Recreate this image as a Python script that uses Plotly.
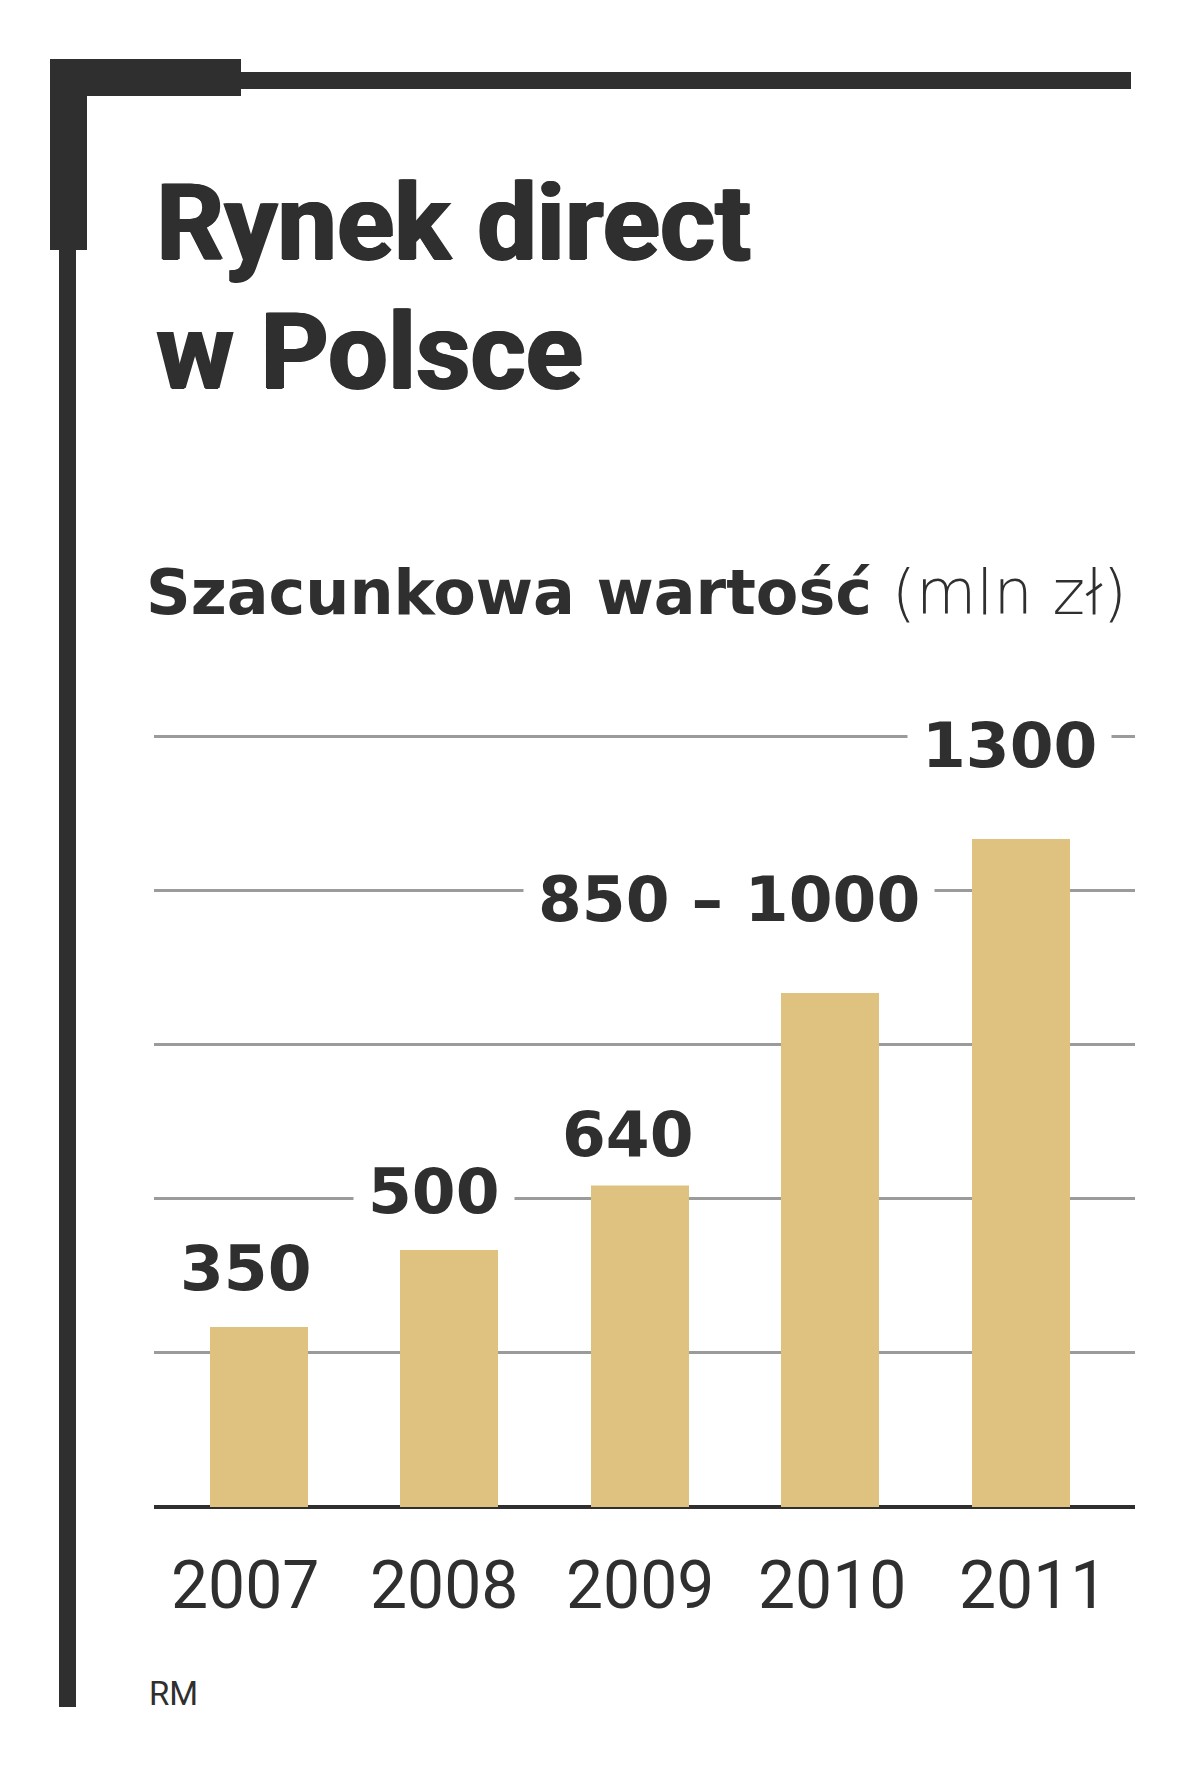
import plotly.graph_objects as go

# ---- data ----
years = ["2007", "2008", "2009", "2010", "2011"]
values = [350, 500, 640, 1000, 1300]
value_labels = ["350", "500", "640", "850 – 1000", "1300"]
grid_ticks = [0, 300, 600, 900, 1200, 1500]

title_line1 = "Rynek direct"
title_line2 = "w Polsce"
subtitle_bold = "Szacunkowa wartość"
subtitle_unit = "(mln zł)"
source = "RM"

W, H = 1200, 1766
L, R, T, B = 146, 1127, 727, 1499  # plot area in pixels
DARK = "#2f2f2f"
BAR = "#dfc27f"
GRID = "#9b9b9b"
FONT = "Roboto"
NUMFONT = "DejaVu Sans"

def pxx(x):
    return (x - L) / (R - L)

def pxy(y):
    return (B - y) / (B - T)

xs = list(range(len(years)))

fig = go.Figure()
fig.add_trace(go.Bar(x=xs, y=values, width=0.515, marker=dict(color=BAR, line=dict(width=0)),
                     hoverinfo="skip"))

# frame shapes (decoration)
shapes = []
def rect(x0, y0, x1, y1):
    shapes.append(dict(type="rect", xref="paper", yref="paper", x0=pxx(x0), x1=pxx(x1),
                       y0=pxy(y1), y1=pxy(y0), fillcolor=DARK, line=dict(width=0), layer="above"))
rect(42, 51, 233, 88)
rect(233, 64, 1123, 81)
rect(42, 51, 79, 242)
rect(51, 242, 68, 1699)

annotations = []
# value labels
xshifts = [-13, -15, -12, -101, -11]
yshifts = [7, 7, -8, 42, 42]
for i, (v, t) in enumerate(zip(values, value_labels)):
    annotations.append(dict(x=i, y=v, xref="x", yref="y", text=f"<b>{t}</b>", showarrow=False,
                            xanchor="center", yanchor="bottom", xshift=xshifts[i], yshift=yshifts[i],
                            bgcolor="white", borderpad=14,
                            font=dict(family=NUMFONT, size=63, color=DARK)))

# year labels
year_xshift = [-14, -5, 0, 2, 12]
for i, yr in enumerate(years):
    annotations.append(dict(x=i, y=0, xref="x", yref="y", text=yr, showarrow=False,
                            xanchor="center", yanchor="top", xshift=year_xshift[i], yshift=-38,
                            font=dict(family=FONT, size=66, color=DARK)))

# titles
title_shadow = "1.5px 0 0 #2f2f2f, -1px 0 0 #2f2f2f, 0 1px 0 #2f2f2f"
annotations.append(dict(x=pxx(146), y=pxy(254), xref="paper", yref="paper", xanchor="left", yanchor="bottom",
                        yshift=-25, text=f"<b>{title_line1}</b>", showarrow=False,
                        font=dict(family=FONT, size=106, color=DARK, shadow=title_shadow)))
annotations.append(dict(x=pxx(146), y=pxy(383), xref="paper", yref="paper", xanchor="left", yanchor="bottom",
                        yshift=-25, text=f"<b>{title_line2}</b>", showarrow=False,
                        font=dict(family=FONT, size=106, color=DARK, shadow=title_shadow)))
annotations.append(dict(x=pxx(136), y=pxy(608), xref="paper", yref="paper", xanchor="left", yanchor="bottom",
                        yshift=-15,
                        text=f"<b>{subtitle_bold}</b> <span style='font-weight:200'>{subtitle_unit}</span>",
                        showarrow=False, font=dict(family=NUMFONT, size=62, color=DARK)))
annotations.append(dict(x=pxx(139), y=pxy(1699), xref="paper", yref="paper", xanchor="left", yanchor="bottom",
                        yshift=-8, text=source, showarrow=False,
                        font=dict(family=FONT, size=33, color=DARK)))

fig.update_layout(
    width=W, height=H,
    margin=dict(l=L, r=W - R, t=T, b=H - B, pad=0),
    paper_bgcolor="white", plot_bgcolor="white",
    showlegend=False, bargap=0,
    shapes=shapes, annotations=annotations,
    xaxis=dict(range=[-0.55, 4.6], tickvals=xs, showticklabels=False, showgrid=False, zeroline=False,
               showline=False, ticks=""),
    yaxis=dict(range=[0, 1502], tickvals=grid_ticks, showticklabels=False, showgrid=True,
               gridcolor=GRID, gridwidth=3, zeroline=True, zerolinecolor=DARK, zerolinewidth=4,
               ticks="", showline=False, fixedrange=True),
)

fig.write_html("out.html")
